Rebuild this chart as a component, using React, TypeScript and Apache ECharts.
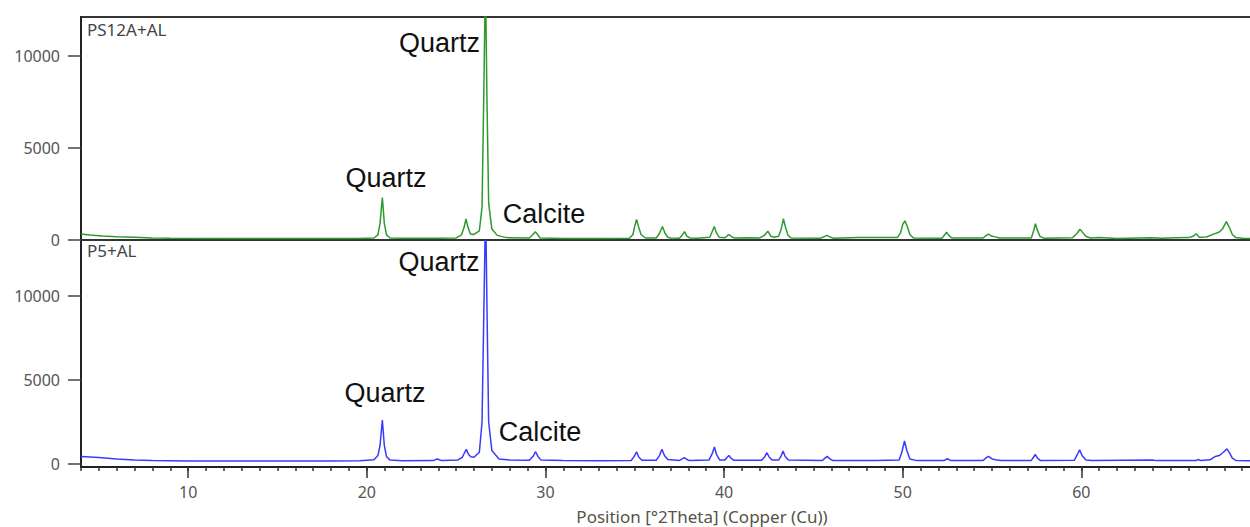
import React, { useEffect, useRef } from "react";
import * as echarts from "echarts";

// ---- data ----
const xMajorTicks = [10, 20, 30, 40, 50, 60, 70];
const xLabelValues = [10, 20, 30, 40, 50, 60];
const yTickValues = [0, 5000, 10000];
const xTitle = "Position [°2Theta] (Copper (Cu))";
const upperName = "PS12A+AL";
const lowerName = "P5+AL";

// PS12A+AL pattern: [2θ, counts]
const upperPattern: [number, number][] = [
  [4.0, 330], [4.5, 270], [5.2, 220], [6.0, 180], [7.0, 150], [8.0, 110], [9.0, 95], [12, 85], [15, 80], [18, 80], [19.5, 85],
  [20.4, 110], [20.62, 280], [20.74, 900], [20.87, 2300], [20.98, 900], [21.1, 280], [21.3, 110],
  [22, 90], [24, 90], [25.0, 110], [25.3, 280], [25.45, 700], [25.55, 1150], [25.66, 700], [25.8, 330], [26.0, 300],
  [26.3, 500], [26.45, 1800], [26.55, 8000], [26.64, 14500], [26.72, 8000], [26.82, 2000], [27.0, 600], [27.3, 250],
  [27.8, 130], [29.1, 110], [29.3, 300], [29.43, 450], [29.56, 300], [29.7, 110], [31, 85], [33, 85], [34.7, 90],
  [34.9, 300], [35.0, 750], [35.1, 1120], [35.2, 750], [35.35, 300], [35.6, 110], [36.2, 110], [36.38, 350], [36.55, 730], [36.7, 350], [36.85, 150],
  [37.0, 110], [37.5, 100], [37.64, 250], [37.78, 450], [37.92, 200], [38.1, 110], [38.5, 100], [39.2, 150], [39.33, 450], [39.45, 730],
  [39.57, 400], [39.72, 150], [40.05, 120], [40.17, 220], [40.27, 300], [40.4, 200], [40.55, 110], [41.4, 120], [42.0, 110], [42.25, 250], [42.45, 480],
  [42.62, 200], [42.8, 150], [43.05, 200], [43.2, 600], [43.32, 1150], [43.45, 650], [43.58, 250], [43.75, 110], [45.4, 100], [45.6, 180], [45.75, 250],
  [45.9, 180], [46.1, 100], [47.5, 130], [48.5, 130], [49.7, 130], [49.88, 400], [50.0, 850], [50.12, 1040], [50.25, 750], [50.4, 300], [50.6, 110],
  [52.2, 100], [52.35, 280], [52.45, 420], [52.58, 250], [52.75, 110], [54.5, 110], [54.68, 250], [54.8, 320], [55.0, 200], [55.2, 170], [55.4, 110], [57.2, 110],
  [57.33, 500], [57.43, 880], [57.53, 550], [57.68, 200], [57.9, 100], [59.5, 120], [59.75, 350], [59.92, 580], [60.08, 400], [60.25, 200], [60.5, 110], [61, 130],
  [62, 85], [63.9, 120], [64.5, 100], [65.2, 120], [66.0, 130], [66.25, 200], [66.43, 340], [66.6, 150],
  [67.0, 160], [67.4, 320], [67.7, 420], [67.9, 600], [68.12, 1000], [68.3, 650], [68.45, 300], [68.65, 130], [69.0, 90], [70, 85],
];

// P5+AL pattern: [2θ, counts]
const lowerPattern: [number, number][] = [
  [4.0, 440], [5.0, 380], [6.0, 300], [7.0, 240], [8.0, 200], [10, 180], [14, 170], [18, 180], [19.6, 190],
  [20.4, 250], [20.62, 500], [20.74, 1100], [20.87, 2620], [20.98, 1100], [21.1, 450], [21.3, 230], [22, 190], [23.7, 200], [23.95, 300],
  [24.2, 200], [25.1, 240], [25.35, 400], [25.46, 650], [25.57, 870], [25.68, 600], [25.82, 430], [26.0, 400], [26.3, 700], [26.45, 2500],
  [26.55, 9000], [26.65, 15500], [26.73, 9000], [26.82, 2500], [27.0, 800], [27.4, 300], [28.0, 230],
  [29.1, 220], [29.32, 480], [29.45, 730], [29.58, 450], [29.75, 230], [31, 200], [33, 190], [34.8, 210], [34.97, 450], [35.1, 730], [35.22, 420], [35.4, 220],
  [36.2, 220], [36.38, 500], [36.52, 870], [36.66, 500], [36.85, 260], [37.5, 210], [37.65, 300], [37.78, 380], [37.9, 280], [38.05, 200], [39.15, 230], [39.33, 600], [39.46, 1010],
  [39.58, 550], [39.75, 240], [40.05, 240], [40.17, 400], [40.27, 500], [40.38, 350], [40.55, 220], [42.1, 220], [42.27, 420], [42.4, 670], [42.53, 400], [42.7, 230], [43.05, 230],
  [43.18, 450], [43.3, 770], [43.42, 450], [43.6, 230], [45.5, 210], [45.65, 350], [45.77, 450], [45.9, 320], [46.1, 200], [48.5, 200], [49.8, 230], [49.95, 700], [50.1, 1370],
  [50.23, 800], [50.4, 300], [50.8, 200], [52.3, 200], [52.5, 310], [52.7, 200], [54.5, 210], [54.68, 380], [54.8, 450], [55.0, 300], [55.2, 250],
  [55.5, 200], [57.2, 210], [57.32, 400], [57.42, 565], [57.54, 350], [57.7, 210], [59.6, 220], [59.77, 550], [59.9, 840], [60.04, 500], [60.25, 240], [60.6, 200],
  [64.0, 240], [64.2, 200], [66.4, 200], [66.55, 270], [66.7, 200], [67.2, 250], [67.5, 450], [67.75, 520],
  [67.95, 700], [68.15, 900], [68.3, 650], [68.45, 350], [68.65, 210], [70, 190],
];

// phase annotations: label centre in data coordinates
const upperNotes: { label: string; at: [number, number] }[] = [
  { label: "Quartz", at: [24.07, 10690] },
  { label: "Quartz", at: [21.07, 3364] },
  { label: "Calcite", at: [29.92, 1411] },
];
const lowerNotes: { label: string; at: [number, number] }[] = [
  { label: "Quartz", at: [24.04, 12024] },
  { label: "Quartz", at: [21.02, 4226] },
  { label: "Calcite", at: [29.69, 1905] },
];

const UI_FONT = "'Noto Sans', 'Open Sans', sans-serif";
const NOTE_FONT = "'Liberation Sans', Arial, sans-serif";

function markFor(notes: { label: string; at: [number, number] }[]) {
  return {
    symbol: "circle",
    symbolSize: 1,
    itemStyle: { color: "rgba(0,0,0,0)" },
    label: {
      show: true,
      position: "inside",
      formatter: (p: any) => p.name,
      color: "#111",
      fontSize: 27,
      fontFamily: NOTE_FONT,
    },
    data: notes.map((n) => ({ name: n.label, coord: n.at })),
  };
}

export default function App() {
  const ref = useRef<HTMLDivElement>(null);
  useEffect(() => {
    if (!ref.current) return;
    const chart = echarts.init(ref.current, undefined, { renderer: "svg" });
    const yLabel = {
      fontSize: 16, color: "#555", fontFamily: UI_FONT, margin: 21,
      customValues: yTickValues, formatter: (v: number) => String(v),
    };
    const yTick = { show: true, length: 13, customValues: yTickValues, lineStyle: { color: "#444", width: 1.5 } };
    const yLine = { show: true, lineStyle: { color: "#222", width: 2 } };
    chart.setOption({
      animation: false,
      backgroundColor: "#fff",
      grid: [
        { left: 81, top: 17, width: 1179, height: 223, show: true, borderColor: "#333", borderWidth: 2, backgroundColor: "transparent" },
        { left: 81, top: 241, width: 1179, height: 226 },
      ],
      xAxis: [
        { gridIndex: 0, type: "value", min: 4, max: 70, axisLine: { show: false }, axisTick: { show: false }, axisLabel: { show: false }, splitLine: { show: false } },
        {
          gridIndex: 1, type: "value", min: 4, max: 70, interval: 1, position: "bottom",
          axisLine: { show: true, onZero: false, lineStyle: { color: "#222", width: 2 } },
          axisTick: { show: true, length: 4, lineStyle: { color: "#333", width: 1.5 } },
          axisLabel: { show: false }, splitLine: { show: false },
        },
        {
          gridIndex: 1, type: "value", min: 4, max: 70, position: "bottom",
          axisLine: { show: false, onZero: false },
          axisTick: { show: true, length: 11, customValues: xMajorTicks, lineStyle: { color: "#333", width: 1.5 } },
          axisLabel: { show: true, customValues: xLabelValues, fontSize: 16, color: "#555", fontFamily: UI_FONT, margin: 17 },
          splitLine: { show: false },
        },
      ],
      yAxis: [
        { gridIndex: 0, type: "value", min: 0, max: 12100, axisLine: yLine, axisTick: yTick, axisLabel: yLabel, splitLine: { show: false } },
        { gridIndex: 1, type: "value", min: -180, max: 13270, axisLine: yLine, axisTick: yTick, axisLabel: yLabel, splitLine: { show: false } },
      ],
      series: [
        {
          type: "line", xAxisIndex: 0, yAxisIndex: 0, data: upperPattern, showSymbol: false, symbol: "none",
          lineStyle: { color: "#2e9a2e", width: 1.5 }, clip: true, markPoint: markFor(upperNotes),
        },
        {
          type: "line", xAxisIndex: 1, yAxisIndex: 1, data: lowerPattern, showSymbol: false, symbol: "none",
          lineStyle: { color: "#3a3aff", width: 1.5 }, clip: true, markPoint: markFor(lowerNotes),
        },
      ],
      graphic: [
        { type: "text", left: 87, top: 21, style: { text: upperName, fontSize: 17, fill: "#444", fontFamily: UI_FONT } },
        { type: "text", left: 87, top: 242, style: { text: lowerName, fontSize: 17, fill: "#444", fontFamily: UI_FONT } },
        { type: "text", x: 702, y: 516, style: { text: xTitle, fontSize: 17, fill: "#554", fontFamily: UI_FONT, align: "center", verticalAlign: "middle" } },
      ],
    });
    return () => chart.dispose();
  }, []);
  return (
    <div style={{ position: "fixed", left: 0, top: 0, width: 1250, height: 527, overflow: "hidden", background: "#fff" }}>
      <div ref={ref} style={{ position: "absolute", left: 0, top: 0, width: 1262, height: 527 }} />
    </div>
  );
}
